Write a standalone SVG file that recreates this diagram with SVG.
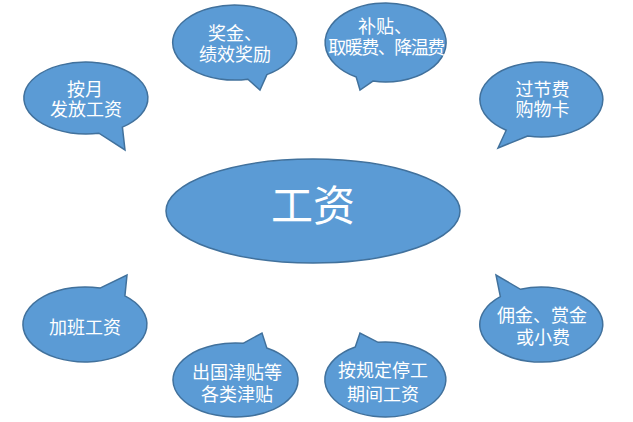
<svg xmlns="http://www.w3.org/2000/svg" width="633" height="422" viewBox="0 0 633 422">
<style>
.b{fill:#5B9BD5;stroke:#41719C;stroke-width:1.5;stroke-linejoin:miter}
.t{font-family:"Liberation Sans","Noto Sans CJK SC",sans-serif;font-size:18px;fill:#FFFFFF;text-anchor:middle}
.big{font-size:42px}
</style>
<rect width="633" height="422" fill="#FFFFFF"/>
<g id="connectors"></g>
<g id="n-center">
<ellipse class="b" cx="313" cy="211" rx="147" ry="52"/>
<text class="t big" x="313" y="221">工资</text>
</g>
<g id="n-monthly">
<path class="b" d="M122.4,127.1 L125,150 L98.9,133.2 A62,36 0 1 1 122.4,127.1 Z"/>
<text class="t"><tspan x="85" y="95.5">按月</tspan><tspan x="86" y="115.5">发放工资</tspan></text>
</g>
<g id="n-bonus">
<path class="b" d="M266.9,74.6 L260,90 L247.9,79.2 A62,37.5 0 1 1 266.9,74.6 Z"/>
<text class="t"><tspan x="235" y="39.5">奖金、</tspan><tspan x="235" y="60.5">绩效奖励</tspan></text>
</g>
<g id="n-subsidy">
<path class="b" d="M372.9,81.1 L360,90 L356.2,77 A60.5,39.5 0 1 1 372.9,81.1 Z"/>
<text class="t"><tspan x="385" y="32.5">补贴、</tspan><tspan x="386" y="53.5" letter-spacing="-1.5">取暖费、降温费</tspan></text>
</g>
<g id="n-holiday">
<path class="b" d="M527.7,136 L498,148 L506.2,130.2 A61.5,37.5 0 1 1 527.7,136 Z"/>
<text class="t"><tspan x="542.5" y="95.5">过节费</tspan><tspan x="542.5" y="116">购物卡</tspan></text>
</g>
<g id="n-overtime">
<path class="b" d="M100,288.1 L127,275 L124.9,295.8 A62,37.5 0 1 1 100,288.1 Z"/>
<text class="t" x="85" y="333.5">加班工资</text>
</g>
<g id="n-abroad">
<path class="b" d="M243.1,343.3 L262,333 L266.8,348 A62.5,37 0 1 1 243.1,343.3 Z"/>
<text class="t"><tspan x="237" y="378.5">出国津贴等</tspan><tspan x="237" y="400.5">各类津贴</tspan></text>
</g>
<g id="n-stoppage">
<path class="b" d="M355.25,347 L360,333 L378.1,342.3 A60.5,37.5 0 1 1 355.25,347 Z"/>
<text class="t"><tspan x="383" y="376.5">按规定停工</tspan><tspan x="383" y="400.5">期间工资</tspan></text>
</g>
<g id="n-commission">
<path class="b" d="M500.35,296.6 L496,275 L520.5,289.3 A61.5,37.5 0 1 1 500.35,296.6 Z"/>
<text class="t"><tspan x="542" y="321.5">佣金、赏金</tspan><tspan x="543" y="343.5">或小费</tspan></text>
</g>
</svg>
